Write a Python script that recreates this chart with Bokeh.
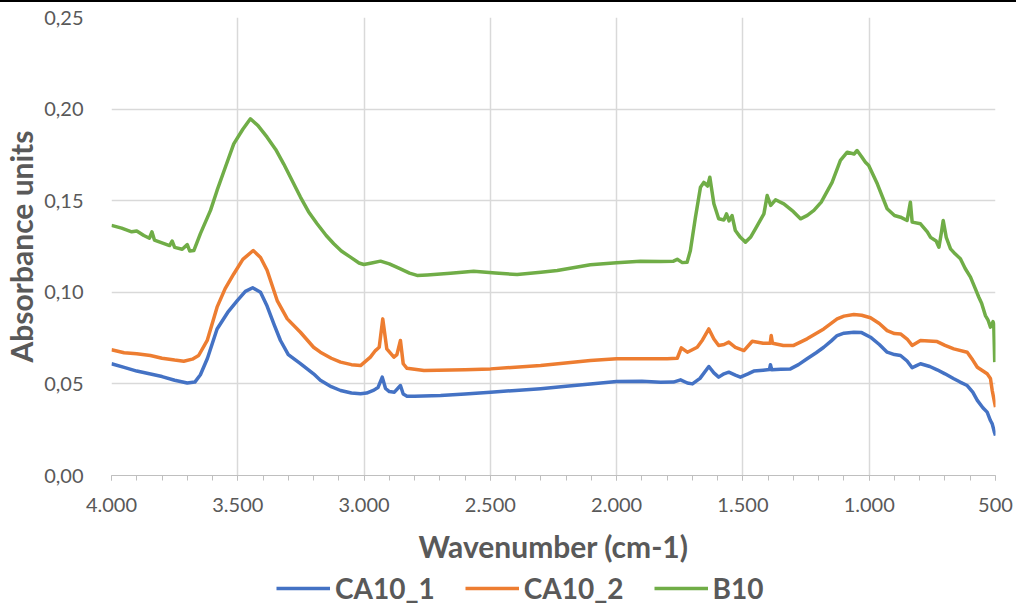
from bokeh.plotting import figure
from bokeh.layouts import column
from bokeh.models import Range1d, FixedTicker, CustomJSTickFormatter, Legend, LegendItem
from bokeh.embed import file_html
from bokeh.resources import INLINE

# ---------------- data ----------------
ca10_1_wn = [4000, 3950, 3900, 3850, 3800, 3750, 3700, 3670, 3648, 3620, 3582, 3540, 3502, 3470,
             3441, 3410, 3384, 3355, 3331, 3300, 3252, 3200, 3173, 3130, 3093, 3050, 3014, 2990,
             2961, 2945, 2928, 2915, 2900, 2880, 2856, 2845, 2830, 2800, 2697, 2600, 2499, 2400,
             2301, 2200, 2104, 2000, 1900, 1826, 1775, 1747, 1720, 1700, 1670, 1635, 1615, 1596,
             1575, 1556, 1530, 1510, 1480, 1457, 1420, 1395, 1391, 1386, 1350, 1312, 1280, 1246,
             1210, 1180, 1150, 1127, 1100, 1061, 1030, 995, 960, 929, 900, 876, 850, 830, 815,
             797, 760, 731, 700, 665, 640, 612, 590, 572, 550, 533, 520, 513, 504, 500]
ca10_1_abs = [0.061, 0.059, 0.057, 0.0555, 0.054, 0.052, 0.0505, 0.051, 0.055, 0.064, 0.080, 0.089,
              0.0955, 0.1005, 0.1025, 0.100, 0.0925, 0.082, 0.0737, 0.066, 0.0611, 0.0555, 0.052,
              0.0485, 0.0464, 0.0450, 0.0446, 0.045, 0.0466, 0.048, 0.0537, 0.0475, 0.0458, 0.0455,
              0.0491, 0.0445, 0.0433, 0.0432, 0.0437, 0.0445, 0.0455, 0.0464, 0.0474, 0.0487,
              0.0500, 0.0513, 0.0515, 0.0509, 0.051, 0.0522, 0.0505, 0.050, 0.053, 0.0595, 0.056,
              0.0537, 0.0555, 0.0564, 0.0548, 0.0537, 0.0555, 0.057, 0.0575, 0.0578, 0.0605, 0.0577,
              0.058, 0.0582, 0.0605, 0.0637, 0.067, 0.070, 0.0735, 0.0764, 0.0777, 0.0782, 0.078,
              0.0755, 0.0715, 0.0673, 0.066, 0.0655, 0.0625, 0.0588, 0.0598, 0.061, 0.0595, 0.0577,
              0.0555, 0.0528, 0.051, 0.0491, 0.0455, 0.041, 0.037, 0.0346, 0.030, 0.0282, 0.0235,
              0.0218]

ca10_2_wn = [4000, 3950, 3900, 3846, 3800, 3750, 3714, 3680, 3655, 3621, 3582, 3550, 3516, 3480,
             3439, 3410, 3384, 3344, 3304, 3252, 3200, 3173, 3130, 3093, 3050, 3014, 2975, 2955,
             2940, 2926, 2910, 2882, 2870, 2856, 2845, 2830, 2763, 2600, 2499, 2301, 2104, 2000,
             1900, 1800, 1760, 1744, 1720, 1681, 1660, 1635, 1615, 1596, 1575, 1556, 1530, 1496,
             1463, 1420, 1392, 1388, 1383, 1340, 1299, 1246, 1180, 1127, 1100, 1061, 1030, 995,
             960, 929, 900, 876, 850, 830, 797, 731, 700, 665, 612, 590, 572, 533, 520, 513, 504, 500]
ca10_2_abs = [0.0686, 0.067, 0.0665, 0.0655, 0.064, 0.063, 0.0624, 0.0635, 0.0655, 0.0737, 0.0919,
              0.102, 0.110, 0.118, 0.1228, 0.119, 0.112, 0.0955, 0.0855, 0.0782, 0.070, 0.0673,
              0.064, 0.0619, 0.0605, 0.060, 0.0646, 0.0682, 0.070, 0.0855, 0.0691, 0.0646, 0.066,
              0.0737, 0.0610, 0.0585, 0.0573, 0.0577, 0.0582, 0.060, 0.0628, 0.0637, 0.0637, 0.0637,
              0.064, 0.0697, 0.0673, 0.070, 0.074, 0.080, 0.0745, 0.071, 0.0715, 0.0728, 0.070,
              0.0682, 0.0733, 0.0722, 0.0722, 0.0764, 0.0722, 0.071, 0.071, 0.0746, 0.080, 0.0855,
              0.0870, 0.0879, 0.0875, 0.0861, 0.083, 0.0791, 0.0775, 0.0773, 0.0745, 0.071, 0.0737,
              0.0731, 0.071, 0.0691, 0.0673, 0.063, 0.0591, 0.0555, 0.053, 0.0464, 0.040, 0.0373]

b10_wn = [4000, 3960, 3920, 3900, 3872, 3850, 3840, 3830, 3800, 3770, 3760, 3750, 3720, 3700, 3690,
          3674, 3648, 3608, 3582, 3550, 3516, 3480, 3450, 3420, 3384, 3350, 3318, 3285, 3252, 3220,
          3186, 3150, 3120, 3090, 3054, 3020, 3001, 2970, 2935, 2900, 2856, 2820, 2790, 2750, 2658,
          2566, 2480, 2394, 2300, 2235, 2104, 2000, 1906, 1826, 1775, 1760, 1740, 1721, 1708, 1688,
          1668, 1655, 1640, 1631, 1615, 1596, 1575, 1565, 1555, 1543, 1530, 1510, 1490, 1470, 1450,
          1417, 1404, 1390, 1371, 1338, 1300, 1272, 1245, 1219, 1190, 1147, 1114, 1087, 1060, 1048,
          1030, 1015, 1002, 968, 929, 900, 876, 850, 837, 830, 797, 770, 757, 735, 724, 715, 707,
          695, 678, 660, 639, 620, 599, 580, 566, 555, 540, 530, 520, 510, 507, 503]
b10_abs = [0.1365, 0.135, 0.133, 0.1335, 0.131, 0.1295, 0.133, 0.1285, 0.127, 0.1255, 0.128, 0.1245,
           0.1235, 0.126, 0.1225, 0.1228, 0.132, 0.1447, 0.1556, 0.168, 0.181, 0.189, 0.1947, 0.191,
           0.1847, 0.178, 0.170, 0.161, 0.152, 0.144, 0.1374, 0.131, 0.1265, 0.1225, 0.1192, 0.116,
           0.1152, 0.116, 0.117, 0.1155, 0.1128, 0.1105, 0.1092, 0.1095, 0.1104, 0.1115, 0.1105,
           0.1097, 0.111, 0.1119, 0.115, 0.1161, 0.117, 0.1168, 0.117, 0.118, 0.1162, 0.1164,
           0.1228, 0.141, 0.1574, 0.160, 0.158, 0.1628, 0.1483, 0.1401, 0.1395, 0.1428, 0.139,
           0.1419, 0.1337, 0.130, 0.1274, 0.130, 0.1347, 0.1428, 0.1528, 0.1474, 0.1505, 0.1483,
           0.144, 0.1401, 0.142, 0.1447, 0.1492, 0.160, 0.172, 0.1765, 0.1755, 0.1774, 0.174, 0.171,
           0.1692, 0.1592, 0.1456, 0.1419, 0.1410, 0.1392, 0.1492, 0.1383, 0.1374, 0.133, 0.130,
           0.128, 0.1246, 0.132, 0.1392, 0.130, 0.1237, 0.121, 0.1183, 0.113, 0.1083, 0.102, 0.0973,
           0.094, 0.0873, 0.085, 0.081, 0.084, 0.0828, 0.0619]

series_names = ["CA10_1", "CA10_2", "B10"]
x_ticks = [4000, 3500, 3000, 2500, 2000, 1500, 1000, 500]
x_minor = list(range(4000, 499, -100))
y_ticks = [0.0, 0.05, 0.10, 0.15, 0.20, 0.25]

# ---------------- styling ----------------
FONT = "Lato"
TXT = "#595959"
GRID = "#d9d9d9"
colors = ["#4472C4", "#ED7D31", "#70AD47"]
data = [(ca10_1_wn, ca10_1_abs), (ca10_2_wn, ca10_2_abs), (b10_wn, b10_abs)]

# ---------------- main chart ----------------
p = figure(width=1016, height=565, x_range=Range1d(4000, 500), y_range=Range1d(0, 0.25),
           output_backend="svg", toolbar_location=None,
           min_border_left=111, min_border_right=21, min_border_top=15, min_border_bottom=92)
p.outline_line_color = None
p.background_fill_color = "white"
p.border_fill_color = "white"

for (xs, ys), c in zip(data, colors):
    p.line(xs, ys, line_color=c, line_width=3.5, line_join="round")

p.xaxis.ticker = FixedTicker(ticks=x_ticks, minor_ticks=x_minor)
p.xaxis.formatter = CustomJSTickFormatter(code="""
const s = Math.round(tick).toString();
return s.length > 3 ? s.slice(0, -3) + '.' + s.slice(-3) : s;
""")
p.xaxis.axis_line_color = "#bfbfbf"
p.xaxis.major_tick_line_color = "#bfbfbf"
p.xaxis.minor_tick_line_color = "#bfbfbf"
p.xaxis.major_tick_in = 0
p.xaxis.major_tick_out = 5
p.xaxis.minor_tick_in = 0
p.xaxis.minor_tick_out = 5
p.xaxis.major_label_standoff = 17
p.xaxis.axis_label = "Wavenumber (cm-1)"
p.xaxis.axis_label_standoff = 13

p.yaxis.ticker = FixedTicker(ticks=y_ticks)
p.yaxis.formatter = CustomJSTickFormatter(code="return tick.toFixed(2).replace('.', ',');")
p.yaxis.axis_line_color = None
p.yaxis.major_tick_line_color = None
p.yaxis.minor_tick_line_color = None
p.yaxis.major_label_standoff = 22
p.yaxis.axis_label = "Absorbance units"
p.yaxis.axis_label_standoff = 2

for ax in (p.xaxis[0], p.yaxis[0]):
    ax.major_label_text_font = FONT
    ax.major_label_text_font_size = "20px"
    ax.major_label_text_color = TXT
    ax.axis_label_text_font = FONT
    ax.axis_label_text_font_size = "30px"
    ax.axis_label_text_font_style = "bold"
    ax.axis_label_text_color = TXT

p.xgrid.ticker = FixedTicker(ticks=x_ticks)
p.ygrid.ticker = FixedTicker(ticks=y_ticks)
p.xgrid.grid_line_color = GRID
p.ygrid.grid_line_color = GRID
p.xgrid.grid_line_width = 1.5
p.ygrid.grid_line_width = 1.5

# ---------------- legend strip (same series, ranges chosen so only the legend shows) ----------------
leg = figure(width=1016, height=38, x_range=Range1d(0, 1), y_range=Range1d(0, 1),
             output_backend="svg", toolbar_location=None,
             x_axis_location=None, y_axis_location=None,
             min_border_left=0, min_border_right=0, min_border_top=0, min_border_bottom=0)
leg.outline_line_color = None
leg.xgrid.visible = False
leg.ygrid.visible = False
leg_renderers = [leg.line(xs, ys, line_color=c, line_width=3.5) for (xs, ys), c in zip(data, colors)]

legend = Legend(items=[LegendItem(label=n, renderers=[r]) for n, r in zip(series_names, leg_renderers)],
                orientation="horizontal", location=(165, 0))
legend.label_text_font = FONT
legend.label_text_font_size = "28px"
legend.label_text_font_style = "bold"
legend.label_text_color = TXT
legend.glyph_width = 54
legend.label_standoff = 5
legend.spacing = 30
legend.border_line_color = None
legend.background_fill_alpha = 0
legend.padding = 0
legend.margin = 0
leg.add_layout(legend)

layout = column(p, leg, spacing=0, styles={"border-top": "2px solid black"})
open("out.html", "w").write(file_html(layout, INLINE))
